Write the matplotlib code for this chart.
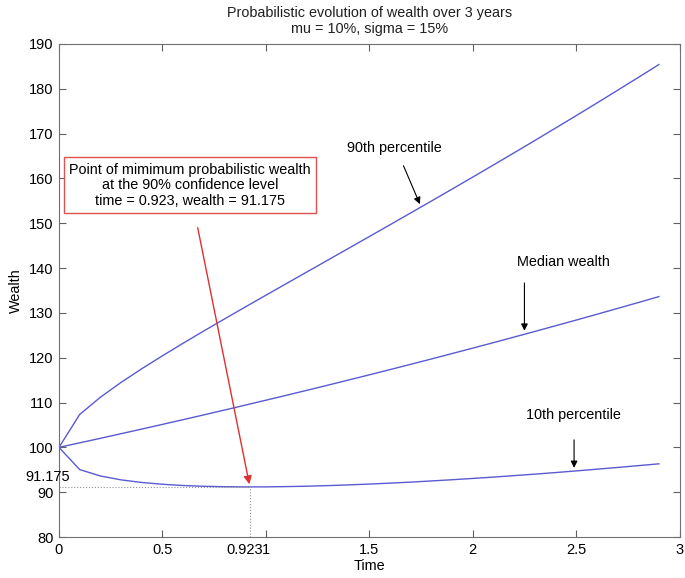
import matplotlib
matplotlib.use("Agg")
import matplotlib.pyplot as plt

plt.rcParams["font.family"] = ["Liberation Sans", "DejaVu Sans"]

# time grid (years) and wealth percentiles, mu = 10%, sigma = 15%
time = [0.0, 0.1, 0.2, 0.3, 0.4, 0.5, 0.6, 0.7, 0.8, 0.9,
        1.0, 1.1, 1.2, 1.3, 1.4, 1.5, 1.6, 1.7, 1.8, 1.9,
        2.0, 2.1, 2.2, 2.3, 2.4, 2.5, 2.6, 2.7, 2.8, 2.9]
p90 = [100.0, 107.34, 111.18, 114.49, 117.54, 120.43, 123.23, 125.97, 128.65, 131.31,
       133.94, 136.56, 139.18, 141.79, 144.41, 147.03, 149.66, 152.30, 154.95, 157.62,
       160.30, 163.00, 165.72, 168.46, 171.23, 174.01, 176.82, 179.66, 182.52, 185.41]
median = [100.0, 101.01, 102.02, 103.05, 104.08, 105.13, 106.18, 107.25, 108.33, 109.42,
          110.52, 111.63, 112.75, 113.88, 115.03, 116.18, 117.35, 118.53, 119.72, 120.93,
          122.14, 123.37, 124.61, 125.86, 127.13, 128.40, 129.69, 131.00, 132.31, 133.64]
p10 = [100.0, 95.05, 93.62, 92.75, 92.17, 91.77, 91.49, 91.32, 91.22, 91.18,
       91.19, 91.25, 91.34, 91.47, 91.63, 91.81, 92.02, 92.25, 92.51, 92.78,
       93.07, 93.37, 93.70, 94.03, 94.38, 94.75, 95.13, 95.52, 95.92, 96.33]
t_min, w_min = 0.923, 91.175
xticks = [0, 0.5, 1, 1.5, 2, 2.5, 3]
yticks = [80, 90, 100, 110, 120, 130, 140, 150, 160, 170, 180, 190]

line_col = "#5a5ad2"
fs = 10.4

fig = plt.figure(figsize=(6.85, 5.78), dpi=100)
ax = fig.add_axes([0.0861, 0.0709, 0.906, 0.853])

for series in (p90, median, p10):
    ax.plot(time, series, color=line_col, lw=1.0)

# dotted guides to the minimum point
ax.plot([0, t_min], [w_min, w_min], ls=":", color="#909090", lw=0.8)
ax.plot([t_min, t_min], [80, w_min], ls=":", color="#909090", lw=0.8)

ax.set_xlim(0, 3)
ax.set_ylim(80, 190)
ax.set_xticks(xticks)
ax.set_xticklabels([f"{v:g}" for v in xticks])
ax.set_yticks(yticks)
ax.tick_params(direction="in", top=True, right=True, labelsize=10.5,
               length=5, color="#606060", pad=4)
for s in ax.spines.values():
    s.set_color("#707070")

# labels for the minimum point placed next to the axes
ax.text(0.055, 93.3, f"{w_min:g}", ha="right", va="center", fontsize=10.5)
ax.annotate(f"{t_min:g}", xy=(0.899, 80), xytext=(0, -4.5),
            textcoords="offset points", ha="center", va="top", fontsize=10.5)

ax.set_xlabel("Time", fontsize=fs, labelpad=2)
ax.set_ylabel("Wealth", fontsize=fs, labelpad=4)
ax.set_title("Probabilistic evolution of wealth over 3 years\nmu = 10%, sigma = 15%",
             fontsize=fs, pad=8, color="#202020", linespacing=1.2)

# annotations
ax.annotate("", xy=(t_min, w_min), xytext=(0.668, 149.6),
            arrowprops=dict(arrowstyle="-|>", color="#e03030", lw=1.0,
                            mutation_scale=12))
ax.text(0.632, 158.5,
        "Point of mimimum probabilistic wealth\nat the 90% confidence level\n"
        "time = 0.923, wealth = 91.175",
        ha="center", va="center", fontsize=fs, linespacing=1.15,
        bbox=dict(boxstyle="square,pad=0.35", fc="white", ec="#e05050", lw=1.0))

ax.text(1.62, 166.8, "90th percentile", ha="center", va="center", fontsize=fs)
ax.annotate("", xy=(1.75, 153.7), xytext=(1.66, 163.4),
            arrowprops=dict(arrowstyle="-|>", color="black", lw=0.8,
                            mutation_scale=10))

ax.text(2.44, 141.3, "Median wealth", ha="center", va="center", fontsize=fs)
ax.annotate("", xy=(2.25, 125.4), xytext=(2.25, 137.3),
            arrowprops=dict(arrowstyle="-|>", color="black", lw=0.8,
                            mutation_scale=10))

ax.text(2.485, 107.2, "10th percentile", ha="center", va="center", fontsize=fs)
ax.annotate("", xy=(2.49, 94.8), xytext=(2.49, 102.3),
            arrowprops=dict(arrowstyle="-|>", color="black", lw=0.8,
                            mutation_scale=10))

fig.savefig("out.png", dpi=100)
